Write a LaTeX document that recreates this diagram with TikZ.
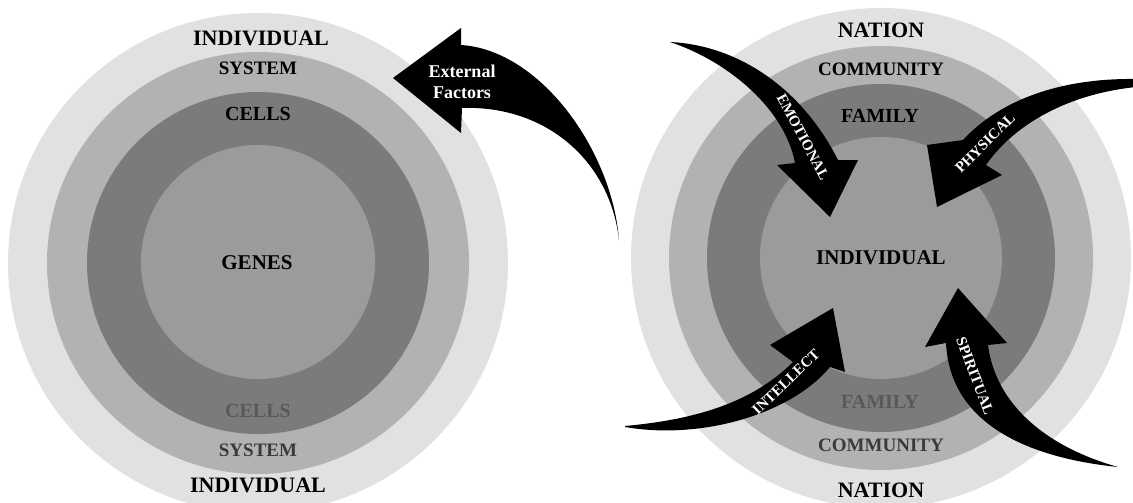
\documentclass[tikz,border=0pt]{standalone}
\usepackage{fontspec}
\setmainfont{Liberation Serif}
\definecolor{ringA}{HTML}{E1E1E1}
\definecolor{ringB}{HTML}{B2B2B2}
\definecolor{ringC}{HTML}{7B7B7B}
\definecolor{ringD}{HTML}{9B9B9B}
\definecolor{txtmid}{HTML}{3A3A3A}
\definecolor{txtlow}{HTML}{595959}
\tikzset{
  lbl/.style={inner sep=0pt, font=\bfseries\fontsize{#1}{#1}\selectfont},
  lbl/.default=22,
  arrowbody/.style={fill=black, draw=none},
  arrowtxt/.style={text=white, inner sep=0pt, font=\bfseries\fontsize{15}{15}\selectfont},
}
\begin{document}
\begin{tikzpicture}[x=1pt,y=-1pt]
\clip (0,0) rectangle (1133,503);
\fill[white] (0,0) rectangle (1133,503);
% left rings
\fill[ringA] (258,263) circle (250);
\fill[ringB] (258,263) circle (211);
\fill[ringC] (258,263) circle (171);
\fill[ringD] (258,262) circle (117);
% right rings
\fill[ringA] (881,258) circle (250);
\fill[ringB] (881,258) circle (212);
\fill[ringC] (881,258) circle (174);
\fill[ringD] (881,258) circle (121);
% left labels
\node[lbl=22] (lind) at (261,38) {INDIVIDUAL};
\node[lbl=19] (lsys) at (258,68) {SYSTEM};
\node[lbl=20] (lcel) at (258,114) {CELLS};
\node[lbl=21] (lgen) at (257,263) {GENES};
\node[lbl=20, text=txtlow] (lcel2) at (258,411) {CELLS};
\node[lbl=19, text=txtmid] (lsys2) at (258,450) {SYSTEM};
\node[lbl=22] (lind2) at (258,485) {INDIVIDUAL};
% right labels
\node[lbl=22] (rnat) at (881,30) {NATION};
\node[lbl=19] (rcom) at (881,69) {COMMUNITY};
\node[lbl=20] (rfam) at (880,116) {FAMILY};
\node[lbl=21] (rind) at (881,258) {INDIVIDUAL};
\node[lbl=20, text=txtlow] (rfam2) at (880,402) {FAMILY};
\node[lbl=19, text=txtmid] (rcom2) at (881,445) {COMMUNITY};
\node[lbl=22] (rnat2) at (881,490) {NATION};
% external factors arrow
\fill[arrowbody] (461,28) -- (393,78) -- (461,133) -- (462,108)
  .. controls (545,105) and (610,160) .. (619,240)
  .. controls (612,150) and (540,50) .. (461,45) -- cycle;
\node[lbl=18, text=white, align=center] (ext) at (462,82) {External\\[3pt]Factors};
% emotional
\fill[arrowbody] (670,42) .. controls (735,45) and (800,85) .. (838,160)
  -- (858,160) -- (830,217) -- (777,165) -- (795,163)
  .. controls (785,110) and (730,62) .. (670,42) -- cycle;
\node[arrowtxt, rotate=-62] (emo) at (803,137) {EMOTIONAL};
% physical
\fill[arrowbody] (1136,79) .. controls (1060,78) and (1000,100) .. (963,140)
  -- (927,145) -- (937,207) -- (1002,175) -- (986,165)
  .. controls (1010,130) and (1060,95) .. (1136,87) -- cycle;
\node[arrowtxt, rotate=45] (phy) at (985,143) {PHYSICAL};
% intellect
\fill[arrowbody] (625,426) .. controls (690,420) and (750,405) .. (793,362)
  -- (770,345) -- (833,308) -- (845,372) -- (830,367)
  .. controls (790,415) and (700,440) .. (625,427) -- cycle;
\node[arrowtxt, rotate=44] (int) at (786,382) {INTELLECT};
% spiritual
\fill[arrowbody] (1118,467) .. controls (1030,458) and (950,425) .. (946,343)
  -- (925,347) -- (958,288) -- (1007,343) -- (988,345)
  .. controls (995,400) and (1040,445) .. (1118,467) -- cycle;
\node[arrowtxt, rotate=-69] (spi) at (975,376) {SPIRITUAL};
\end{tikzpicture}
\end{document}
